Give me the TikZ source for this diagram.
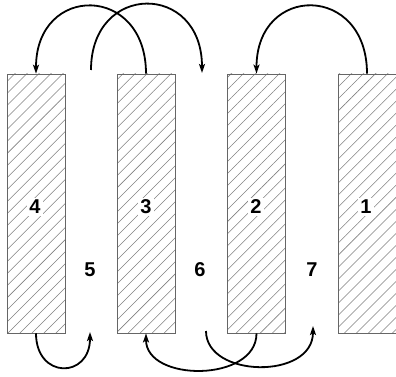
\documentclass[tikz,border=0pt]{standalone}
\usepackage{fontspec}
\setmainfont{Liberation Sans}
\usetikzlibrary{patterns.meta,arrows.meta}
\begin{document}
\begin{tikzpicture}[x=1pt,y=-1pt,
  strand/.style={draw=black!60, line width=0.8pt, minimum width=58pt, minimum height=259pt,
    inner sep=0pt, pattern={Lines[angle=45,distance=8.5pt,line width=0.55pt]}, pattern color=black!50},
  num/.style={fill=white, inner sep=2pt, font=\bfseries\fontsize{20}{20}\selectfont},
  gapnum/.style={inner sep=2pt, font=\bfseries\fontsize{20}{20}\selectfont},
  loop/.style={line width=1.8pt, -{Stealth[length=9pt,width=6pt,inset=2pt]}}]
\useasboundingbox (0,0) rectangle (396,377);
\node[strand] (r4) at (36,203.5) {};
\node[strand] (r3) at (146,203.5) {};
\node[strand] (r2) at (256.5,203.5) {};
\node[strand] (r1) at (367,203.5) {};
\node[num] (n4) at (35,207) {4};
\node[num] (n3) at (146,207) {3};
\node[num] (n2) at (256,207) {2};
\node[num] (n1) at (366,207) {1};
\node[gapnum] (n5) at (90,270) {5};
\node[gapnum] (n6) at (200,270) {6};
\node[gapnum] (n7) at (312,270) {7};
\coordinate (t5) at (91,70);
\coordinate (t6) at (202,73);
\coordinate (b5) at (90,332);
\coordinate (b6) at (206,331);
\coordinate (b7) at (313,326);
% top arcs
\draw[loop] (r3.north) .. controls +(0,-90) and +(0,-90) .. (r4.north);
\draw[loop] (t5) .. controls +(0,-88) and +(0,-91) .. (t6);
\draw[loop] (r1.north) .. controls +(0,-90) and +(0,-90) .. (r2.north);
% bottom arcs
\draw[loop] (r4.south) .. controls +(0,46) and +(0,47) .. (b5);
\draw[loop] (r2.south) .. controls +(0,49) and +(0,49) .. (r3.south);
\draw[loop] (b6) .. controls +(0,47) and +(0,54) .. (b7);
\end{tikzpicture}
\end{document}
